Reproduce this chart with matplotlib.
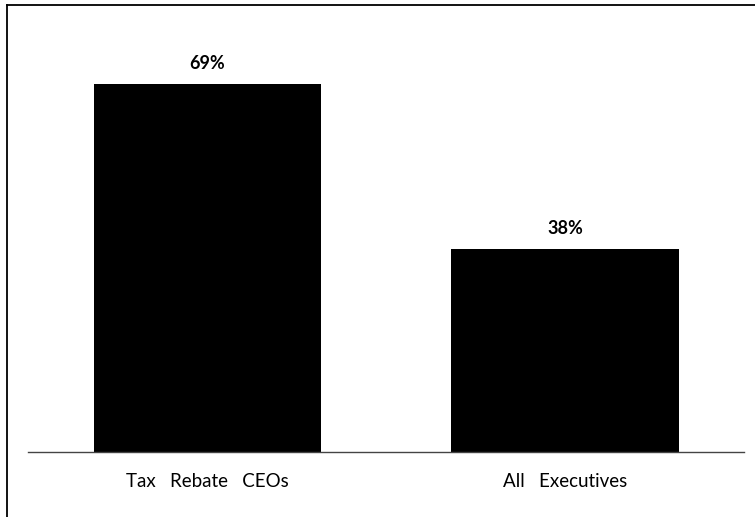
import matplotlib.pyplot as plt
from matplotlib.lines import Line2D

# Chart data
categories = ['Tax   Rebate   CEOs', 'All   Executives']
values = [69, 38]
value_labels = ['69%', '38%']

fig = plt.figure(figsize=(7.55, 5.17), dpi=100)
ax = fig.add_axes([0.0375, 0.1257, 0.9480, 0.8253])

x = range(len(categories))
ax.bar(x, values, width=0.635, color='black')
ax.set_xlim(-0.5, 1.5)
ax.set_ylim(0, 80)

# Value labels above bars
for xi, v, lab in zip(x, values, value_labels):
    ax.annotate(lab, (xi, v), xytext=(0, 9), textcoords='offset points',
                ha='center', va='bottom', fontsize=13, fontweight='bold',
                family='Lato')

for s in ('top', 'right', 'left'):
    ax.spines[s].set_visible(False)
ax.spines['bottom'].set_color('#444444')
ax.spines['bottom'].set_linewidth(1.0)
ax.set_yticks([])
ax.set_xticks(list(x))
ax.set_xticklabels(categories, fontsize=13.5, family='Lato')
ax.tick_params(axis='x', length=0, pad=15)

# Frame lines along the top and left of the figure
fig.add_artist(Line2D([7 / 755, 1], [1 - 5 / 517, 1 - 5 / 517],
                      transform=fig.transFigure, color='black', lw=1.3))
fig.add_artist(Line2D([7 / 755, 7 / 755], [0, 1 - 5 / 517],
                      transform=fig.transFigure, color='black', lw=1.3))

fig.savefig('out.png', dpi=100)
